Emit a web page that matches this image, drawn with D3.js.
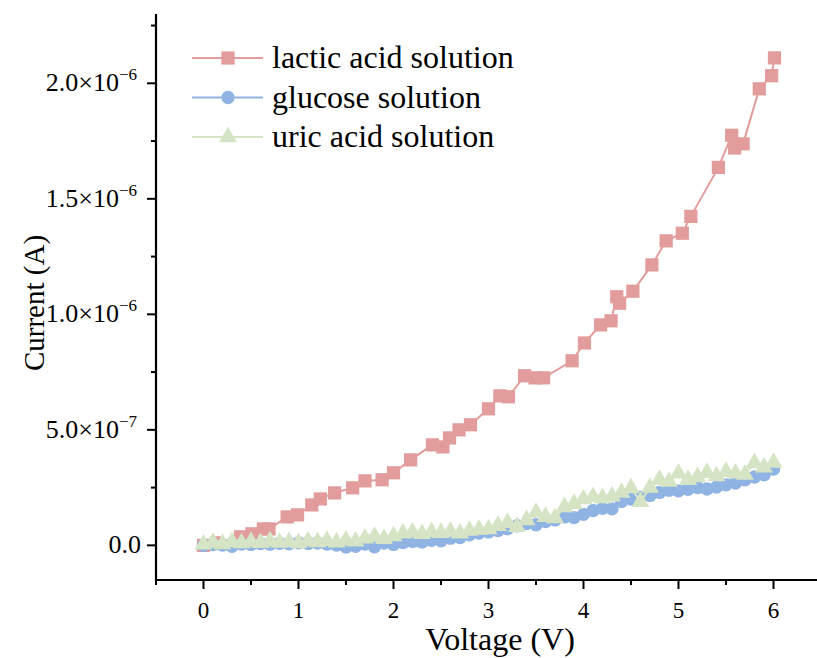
<!DOCTYPE html>
<html><head><meta charset="utf-8">
<script src="https://cdn.jsdelivr.net/npm/d3@7"></script>
<style>body{margin:0;background:#fff}svg{display:block}text{font-family:"Liberation Serif","Times New Roman",serif;fill:#000}</style>
</head><body><svg id="c" width="817" height="658"></svg>
<script>
// ---- data (current in units of 1e-6 A) ----
const lacticV = [0,0.14,0.39,0.51,0.63,0.69,0.88,0.99,1.14,1.23,1.38,1.57,1.70,1.88,2.00,2.18,2.41,2.52,2.59,2.69,2.81,3.00,3.12,3.21,3.38,3.49,3.58,3.88,4.01,4.18,4.29,4.35,4.38,4.52,4.72,4.87,5.04,5.13,5.42,5.56,5.59,5.68,5.85,5.98,6.01];
const lacticI = [0,0.011,0.037,0.050,0.071,0.071,0.123,0.132,0.175,0.201,0.227,0.249,0.279,0.284,0.314,0.370,0.435,0.426,0.465,0.500,0.522,0.591,0.647,0.643,0.734,0.725,0.725,0.799,0.876,0.954,0.972,1.076,1.048,1.100,1.214,1.318,1.351,1.424,1.636,1.775,1.720,1.738,1.976,2.033,2.110];
const sweepV = [0,0.1,0.2,0.3,0.4,0.5,0.6,0.7,0.8,0.9,1.0,1.1,1.2,1.3,1.4,1.5,1.6,1.7,1.8,1.9,2.0,2.1,2.2,2.3,2.4,2.5,2.6,2.7,2.8,2.9,3.0,3.1,3.2,3.3,3.4,3.5,3.6,3.7,3.8,3.9,4.0,4.1,4.2,4.3,4.4,4.5,4.6,4.7,4.8,4.9,5.0,5.1,5.2,5.3,5.4,5.5,5.6,5.7,5.8,5.9,6.0];
const glucoseI = [0,0.003,0.001,-0.004,0.006,0.004,0.008,0.005,0.009,0.007,0.011,0.008,0.010,0.006,0.001,-0.007,-0.004,0.006,-0.006,0.010,0.004,0.012,0.017,0.014,0.022,0.020,0.031,0.034,0.046,0.053,0.058,0.064,0.072,0.085,0.094,0.089,0.103,0.110,0.123,0.120,0.134,0.151,0.160,0.158,0.190,0.200,0.207,0.216,0.229,0.238,0.236,0.243,0.250,0.244,0.252,0.262,0.270,0.284,0.296,0.305,0.330];
const uricI = [0.004,0.012,0.006,0.015,0.010,0.016,0.011,0.018,0.012,0.015,0.010,0.018,0.014,0.020,0.013,0.022,0.017,0.030,0.038,0.028,0.040,0.052,0.056,0.050,0.058,0.054,0.060,0.052,0.064,0.068,0.070,0.085,0.098,0.080,0.110,0.142,0.124,0.118,0.166,0.180,0.200,0.210,0.205,0.212,0.228,0.248,0.188,0.250,0.284,0.276,0.312,0.284,0.296,0.314,0.300,0.318,0.312,0.306,0.356,0.338,0.358];
const seriesNames = ["lactic acid solution","glucose solution","uric acid solution"];
const xTicks = [0,1,2,3,4,5,6];
const yTicks = [0,0.5,1.0,1.5,2.0];
const yTickLabels = ["0.0","5.0×10","1.0×10","1.5×10","2.0×10"];
const yTickExp = ["","−7","−6","−6","−6"];

const colors = ["#e29c9c","#8fb4e3","#d6e4c6"];
const svg = d3.select("#c");
const x = d3.scaleLinear().domain([-0.5,6.5]).range([156,821]);
const y = d3.scaleLinear().domain([-0.15,2.3]).range([580,14]);

const series = [
  {name:seriesNames[0], pts:lacticV.map((v,i)=>[v,lacticI[i]]), sym:d3.symbolSquare, size:175},
  {name:seriesNames[1], pts:sweepV.map((v,i)=>[v,glucoseI[i]]), sym:d3.symbolCircle, size:140},
  {name:seriesNames[2], pts:sweepV.map((v,i)=>[v,uricI[i]]), sym:d3.symbolTriangle, size:140}
];
const line = d3.line().x(d=>x(d[0])).y(d=>y(d[1]));
series.forEach((s,i)=>{
  const g = svg.append("g");
  g.append("path").attr("d",line(s.pts)).attr("fill","none").attr("stroke",colors[i]).attr("stroke-width",2);
  g.selectAll("path.m").data(s.pts).join("path").attr("class","m")
    .attr("d",d3.symbol().type(s.sym).size(s.size))
    .attr("transform",d=>`translate(${x(d[0])},${y(d[1])})`)
    .attr("fill",colors[i]);
});

// axes
const xAx = svg.append("g").attr("transform","translate(0,580)");
xAx.append("line").attr("x1",155).attr("x2",817).attr("stroke","#000").attr("stroke-width",2.2);
d3.range(-0.5,6.51,0.5).forEach(v=>{
  const major = Number.isInteger(v);
  xAx.append("line").attr("x1",x(v)).attr("x2",x(v)).attr("y1",0).attr("y2",major?9:5).attr("stroke","#000").attr("stroke-width",2);
});
xAx.selectAll("text.t").data(xTicks).join("text").attr("class","t")
  .attr("x",d=>x(d)).attr("y",38).attr("text-anchor","middle").attr("font-size",23).text(d=>d);

const yAx = svg.append("g").attr("transform","translate(156,0)");
yAx.append("line").attr("y1",14).attr("y2",581).attr("stroke","#000").attr("stroke-width",2.2);
d3.range(0,2.26,0.25).forEach(v=>{
  const major = Math.abs(v*2-Math.round(v*2))<1e-9;
  yAx.append("line").attr("x1",0).attr("x2",major?-9:-5).attr("y1",y(v)).attr("y2",y(v)).attr("stroke","#000").attr("stroke-width",2);
});
yTicks.forEach((v,i)=>{
  const t = yAx.append("text").attr("x",yTickExp[i]?-19:-15).attr("y",y(v)+8).attr("text-anchor","end").attr("font-size",26);
  t.append("tspan").text(yTickLabels[i]);
  if(yTickExp[i]) t.append("tspan").attr("dy",-11).attr("font-size",17).text(yTickExp[i]);
});

// titles
svg.append("text").attr("x",500).attr("y",650).attr("text-anchor","middle").attr("font-size",32).text("Voltage (V)");
svg.append("text").attr("transform","translate(44,303) rotate(-90)").attr("text-anchor","middle").attr("font-size",29).text("Current (A)");

// legend
series.forEach((s,i)=>{
  const ly = 58 + i*39.5;
  const g = svg.append("g");
  g.append("line").attr("x1",192).attr("x2",263).attr("y1",ly).attr("y2",ly).attr("stroke",colors[i]).attr("stroke-width",2);
  g.append("path").attr("d",d3.symbol().type(s.sym).size(s.size)).attr("transform",`translate(228,${ly})`).attr("fill",colors[i]);
  g.append("text").attr("x",272).attr("y",ly+10).attr("font-size",32).text(s.name);
});
</script></body></html>
